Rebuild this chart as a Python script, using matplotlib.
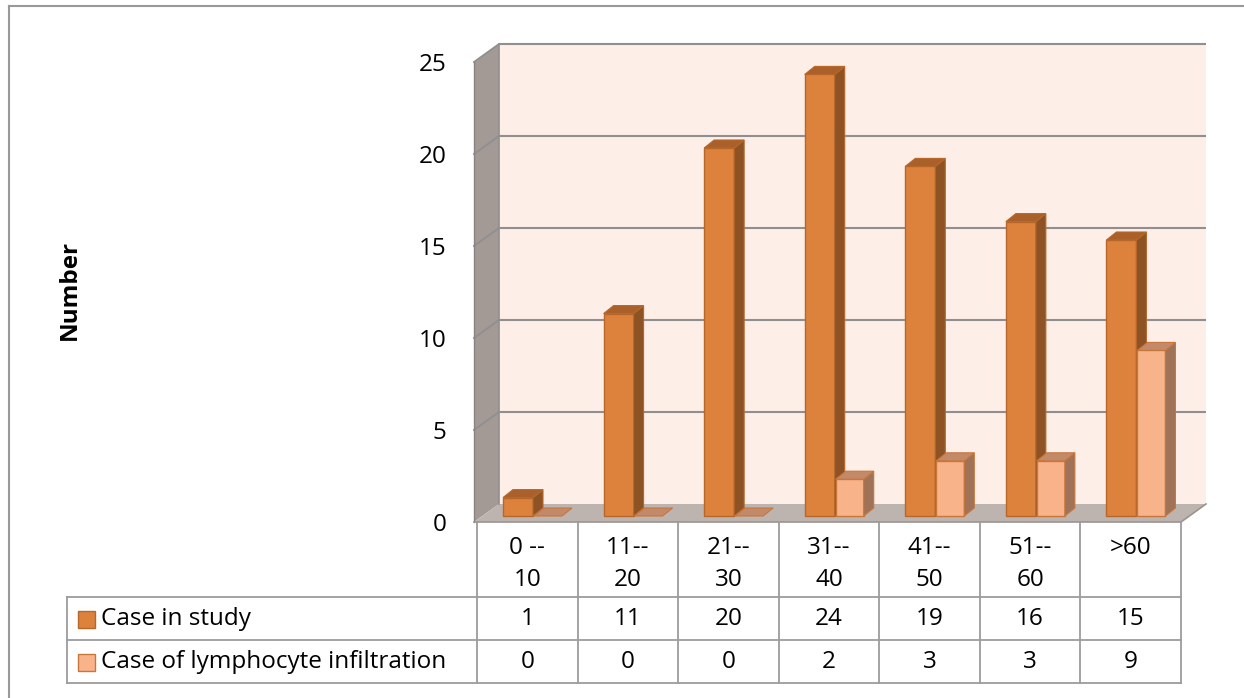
import matplotlib.pyplot as plt
from matplotlib.patches import Polygon, Rectangle

age_groups = ["0 --\n10", "11--\n20", "21--\n30", "31--\n40", "41--\n50", "51--\n60", ">60"]
case_in_study = [1, 11, 20, 24, 19, 16, 15]
lymphocyte_cases = [0, 0, 0, 2, 3, 3, 9]
series_names = ["Case in study", "Case of lymphocyte infiltration"]
y_ticks = [0, 5, 10, 15, 20, 25]

# face colours per series: front, side, top, edge
series_colors = [
    dict(front="#DC823C", side="#8D5325", top="#A9602A", edge="#B8672A"),
    dict(front="#F9B38B", side="#A07359", top="#C38A6A", edge="#C8763A"),
]
wall_back = "#FDEEE7"
wall_side = "#A39A96"
floor_col = "#BEB4AF"
grid_col = "#8F8F8F"
table_col = "#9C9C9C"

plt.rcParams["font.family"] = ["Open Sans", "DejaVu Sans"]
FS = 17.5

W, H = 1244, 698
fig = plt.figure(figsize=(W / 100, H / 100), dpi=100)
ax = fig.add_axes([477 / W, 1 - 522 / H, 704 / W, 460 / H])
n = len(age_groups)
ymax = y_ticks[-1]
ax.set_xlim(0, n)
ax.set_ylim(0, ymax)
for s in ax.spines.values():
    s.set_visible(False)
ax.set_facecolor("none")

# pixel -> data unit scale
sx = 704 / n
sy = 460 / ymax

def px(p):
    return (p - 477) / sx

def py(p):
    return (522 - p) / sy

def poly(pts, **kw):
    kw.setdefault("clip_on", False)
    ax.add_patch(Polygon(pts, closed=True, **kw))

# walls and floor
wx0 = px(474)
wdx, wdy = 25 / sx, 18 / sy
poly([(wx0, 0), (wx0, ymax), (wx0 + wdx, ymax + wdy), (wx0 + wdx, wdy)],
     facecolor=wall_side, edgecolor="none", zorder=0)
poly([(wx0 + wdx, wdy), (wx0 + wdx, ymax + wdy), (n + wdx, ymax + wdy), (n + wdx, wdy)],
     facecolor=wall_back, edgecolor="none", zorder=0)
poly([(wx0, 0), (n, 0), (n + wdx, wdy), (wx0 + wdx, wdy)],
     facecolor=floor_col, edgecolor="none", zorder=0.5)

for v in y_ticks[1:]:
    ax.plot([wx0 + wdx, n + wdx], [v + wdy, v + wdy], color=grid_col, lw=1.5,
            zorder=0.6, clip_on=False, solid_capstyle="butt")
    ax.plot([wx0, wx0 + wdx], [v, v + wdy], color=grid_col, lw=1.3,
            zorder=0.6, clip_on=False)
ax.plot([wx0 + wdx, wx0 + wdx], [wdy, ymax + wdy], color=grid_col, lw=1.2,
        zorder=0.6, clip_on=False)
ax.plot([wx0, wx0], [0, ymax], color="#8A8280", lw=1.0, zorder=0.6, clip_on=False)
ax.plot([wx0, n, n + wdx], [0, 0, wdy], color="#9A9490", lw=1.2, zorder=0.6,
        clip_on=False)

# 3d bars
bar_left = [26 / sx, 57 / sx]
bar_width = [30 / sx, 28 / sx]
base = 6 / sy
ddx, ddy = 10 / sx, 8 / sy
for i in range(n):
    for k, vals in enumerate([case_in_study, lymphocyte_cases]):
        v = vals[i]
        c = series_colors[k]
        x0 = i + bar_left[k]
        x1 = x0 + bar_width[k]
        top = base + v
        z = 2 + i + 0.1 * k
        if v > 0:
            ax.add_patch(Rectangle((x0, base), x1 - x0, v, facecolor=c["front"],
                                   edgecolor=c["edge"], lw=1.0, zorder=z, clip_on=False))
            poly([(x1, base), (x1 + ddx, base + ddy), (x1 + ddx, top + ddy), (x1, top)],
                 facecolor=c["side"], edgecolor=c["edge"], lw=0.8, zorder=z)
        poly([(x0, top), (x1, top), (x1 + ddx, top + ddy), (x0 + ddx, top + ddy)],
             facecolor=c["top"], edgecolor=c["edge"], lw=0.8, zorder=z)

# value axis
ax.set_xticks([])
ax.set_yticks(y_ticks)
ax.set_yticklabels([str(t) for t in y_ticks], fontsize=FS)
ax.tick_params(axis="y", length=0, pad=22)
ax.set_ylabel("Number", fontsize=FS, fontweight="bold")
ax.yaxis.set_label_coords(px(82) / n, 0.505)

# data table beneath the plot
row_lines = [py(597), py(640), py(683)]
tab_left = px(67)
for yv in row_lines:
    ax.plot([tab_left, n], [yv, yv], color=table_col, lw=1.3, zorder=1, clip_on=False)
ax.plot([tab_left, tab_left], [row_lines[0], row_lines[-1]], color=table_col, lw=1.3,
        zorder=1, clip_on=False)
for j in range(n + 1):
    ax.plot([j, j], [0, row_lines[-1]], color=table_col, lw=1.3, zorder=1, clip_on=False)

head_y = [py(548), py(580)]
for i, lab in enumerate(age_groups):
    for line, yv in zip(lab.split("\n"), head_y):
        ax.text(i + 0.5, yv, line, ha="center", va="center", fontsize=FS, clip_on=False)

row_y = [py(619), py(662)]
for k, (name, vals) in enumerate(zip(series_names, [case_in_study, lymphocyte_cases])):
    for i, v in enumerate(vals):
        ax.text(i + 0.5, row_y[k], str(v), ha="center", va="center", fontsize=FS)
    key = 17
    ax.add_patch(Rectangle((px(78), row_y[k] - key / 2 / sy), key / sx, key / sy,
                           facecolor=series_colors[k]["front"],
                           edgecolor=series_colors[k]["edge"], lw=1.0, clip_on=False))
    ax.text(px(101), row_y[k], name, ha="left", va="center", fontsize=FS)

# outer chart border
fig.add_artist(plt.Line2D([9 / W, 9 / W], [0, 1 - 6 / H], color="#999999", lw=1.5))
fig.add_artist(plt.Line2D([9 / W, 1], [1 - 6 / H, 1 - 6 / H], color="#999999", lw=1.5))

fig.savefig("out.png", dpi=100, facecolor="white")
